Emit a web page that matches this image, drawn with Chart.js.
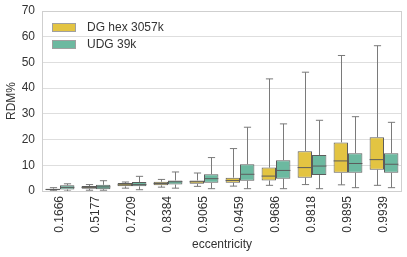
<!DOCTYPE html>
<html>
<head>
<meta charset="utf-8">
<script src="https://cdn.jsdelivr.net/npm/chart.js@4"></script>
<style>
  html, body { margin: 0; padding: 0; background: #fff; }
  #wrap { width: 407px; height: 257px; }
</style>
</head>
<body>
<div id="wrap"><canvas id="myChart" width="407" height="257"></canvas></div>
<script>
// categories along x
var categories = ["0.1666", "0.5177", "0.7209", "0.8384", "0.9065", "0.9459", "0.9686", "0.9818", "0.9895", "0.9939"];

// DG hex 3057k
var dgLow = [0.1, 0.3, 1.1, 1.5, 1.8, 1.9, 2.2, 2.5, 2.4, 2.2];
var dgQ1 = [0.3, 0.9, 1.8, 2.2, 2.8, 3.2, 4.1, 5.2, 7.1, 8.3];
var dgMed = [0.6, 1.4, 2.4, 2.9, 3.6, 4.1, 5.8, 9.1, 11.7, 12.2];
var dgQ3 = [0.9, 1.9, 3.1, 3.6, 4.1, 5.2, 9.1, 15.5, 18.9, 20.9];
var dgHigh = [1.3, 2.5, 3.5, 4.5, 7.0, 16.5, 43.6, 46.2, 52.7, 56.5];

// UDG 39k
var udgLow = [0.0, 0.3, 0.5, 1.1, 0.9, 0.9, 0.9, 0.9, 1.3, 1.3];
var udgQ1 = [0.6, 0.7, 1.8, 2.5, 3.2, 4.0, 4.8, 6.2, 7.1, 7.1];
var udgMed = [1.4, 1.6, 2.5, 3.6, 4.8, 6.5, 8.0, 9.7, 10.7, 10.4];
var udgQ3 = [2.2, 2.4, 3.5, 4.1, 6.5, 10.4, 12.0, 14.0, 14.7, 14.7];
var udgHigh = [2.8, 4.0, 5.7, 7.4, 13.0, 24.8, 26.1, 27.5, 28.9, 26.7];

var yTicks = [0, 10, 20, 30, 40, 50, 60, 70];

var boxGray = "#5c5c5c";
var whiskerGray = "#7a7a7a";

function boxes(q1, q3) {
    var out = [];
    for (var i = 0; i < q1.length; i++) out.push([q1[i], q3[i]]);
    return out;
}

var stats = [
    { low: dgLow, med: dgMed, high: dgHigh, q1: dgQ1, q3: dgQ3 },
    { low: udgLow, med: udgMed, high: udgHigh, q1: udgQ1, q3: udgQ3 }
];

// whiskers, caps and medians drawn on top of the bars
var whiskerPlugin = {
    id: "whiskers",
    afterDatasetsDraw: function (chart) {
        var ctx = chart.ctx;
        var y = chart.scales.y;
        ctx.save();
        ctx.lineWidth = 1;
        chart.data.datasets.forEach(function (ds, d) {
            var meta = chart.getDatasetMeta(d);
            var s = stats[d];
            meta.data.forEach(function (bar, i) {
                var x = Math.round(bar.x) + 0.5;
                var w = bar.width;
                var yl = y.getPixelForValue(s.low[i]);
                var yh = y.getPixelForValue(s.high[i]);
                var y1 = y.getPixelForValue(s.q1[i]);
                var y3 = y.getPixelForValue(s.q3[i]);
                var ym = y.getPixelForValue(s.med[i]);
                ctx.strokeStyle = whiskerGray;
                ctx.beginPath();
                ctx.moveTo(x, y1); ctx.lineTo(x, yl);
                ctx.moveTo(x, y3); ctx.lineTo(x, yh);
                ctx.moveTo(x - w / 4, yl); ctx.lineTo(x + w / 4, yl);
                ctx.moveTo(x - w / 4, yh); ctx.lineTo(x + w / 4, yh);
                ctx.stroke();
                ctx.strokeStyle = boxGray;
                ctx.beginPath();
                ctx.moveTo(bar.x - w / 2, ym); ctx.lineTo(bar.x + w / 2, ym);
                ctx.stroke();
            });
        });
        ctx.restore();
    },
    afterDraw: function (chart) {
        var ctx = chart.ctx;
        var a = chart.chartArea;
        ctx.save();
        // frame
        ctx.strokeStyle = "#cfcfcf";
        ctx.lineWidth = 1;
        ctx.strokeRect(Math.round(a.left) + 0.5, Math.round(a.top) + 0.5, Math.round(a.right - a.left) - 1, Math.round(a.bottom - a.top));
        // legend in the upper left
        ctx.font = "12px 'Liberation Sans', Arial, sans-serif";
        ctx.textBaseline = "middle";
        chart.data.datasets.forEach(function (ds, d) {
            var py = a.top + 12 + d * 17;
            ctx.fillStyle = ds.backgroundColor;
            ctx.fillRect(a.left + 10, py, 24, 9);
            ctx.strokeStyle = "#a0a0a0";
            ctx.strokeRect(a.left + 10.5, py + 0.5, 23, 8);
            ctx.fillStyle = "#333";
            ctx.fillText(ds.label, a.left + 45, py + 5);
        });
        ctx.restore();
    }
};

Chart.defaults.font.family = "'Liberation Sans', Arial, sans-serif";
Chart.defaults.font.size = 12;
Chart.defaults.color = "#333";

var myChart = document.getElementById("myChart").getContext("2d");
var boxChart = new Chart(myChart, {
    type: "bar",
    data: {
        labels: categories,
        datasets: [{
            label: "DG hex 3057k",
            data: boxes(dgQ1, dgQ3),
            backgroundColor: "#e3c442",
            borderColor: boxGray,
            borderWidth: 1,
            borderSkipped: false
        }, {
            label: "UDG 39k",
            data: boxes(udgQ1, udgQ3),
            backgroundColor: "#6cb9a0",
            borderColor: boxGray,
            borderWidth: 1,
            borderSkipped: false
        }]
    },
    options: {
        responsive: false,
        animation: false,
        layout: { padding: { top: 11, right: 5, left: 0, bottom: 0 } },
        categoryPercentage: 0.8,
        barPercentage: 1.0,
        plugins: {
            legend: { display: false },
            tooltip: { enabled: false }
        },
        scales: {
            x: {
                grid: { display: false, drawTicks: false },
                border: { display: false },
                ticks: { minRotation: 90, maxRotation: 90, padding: 5, autoSkip: false },
                title: { display: true, text: "eccentricity", padding: { top: 2, bottom: 5 } },
                afterFit: function (s) { s.height = 66; }
            },
            y: {
                min: 0,
                max: 70,
                afterBuildTicks: function (s) { s.ticks = yTicks.map(function (v) { return { value: v }; }); },
                grid: { color: "#dedede", drawTicks: false },
                border: { display: false },
                ticks: { padding: 7 },
                title: { display: true, text: "RDM%", padding: { top: 4, bottom: 0 } },
                afterFit: function (s) { s.width = 42; s.paddingTop = 0; s.paddingBottom = 0; }
            }
        }
    },
    plugins: [whiskerPlugin]
});
</script>
</body>
</html>
